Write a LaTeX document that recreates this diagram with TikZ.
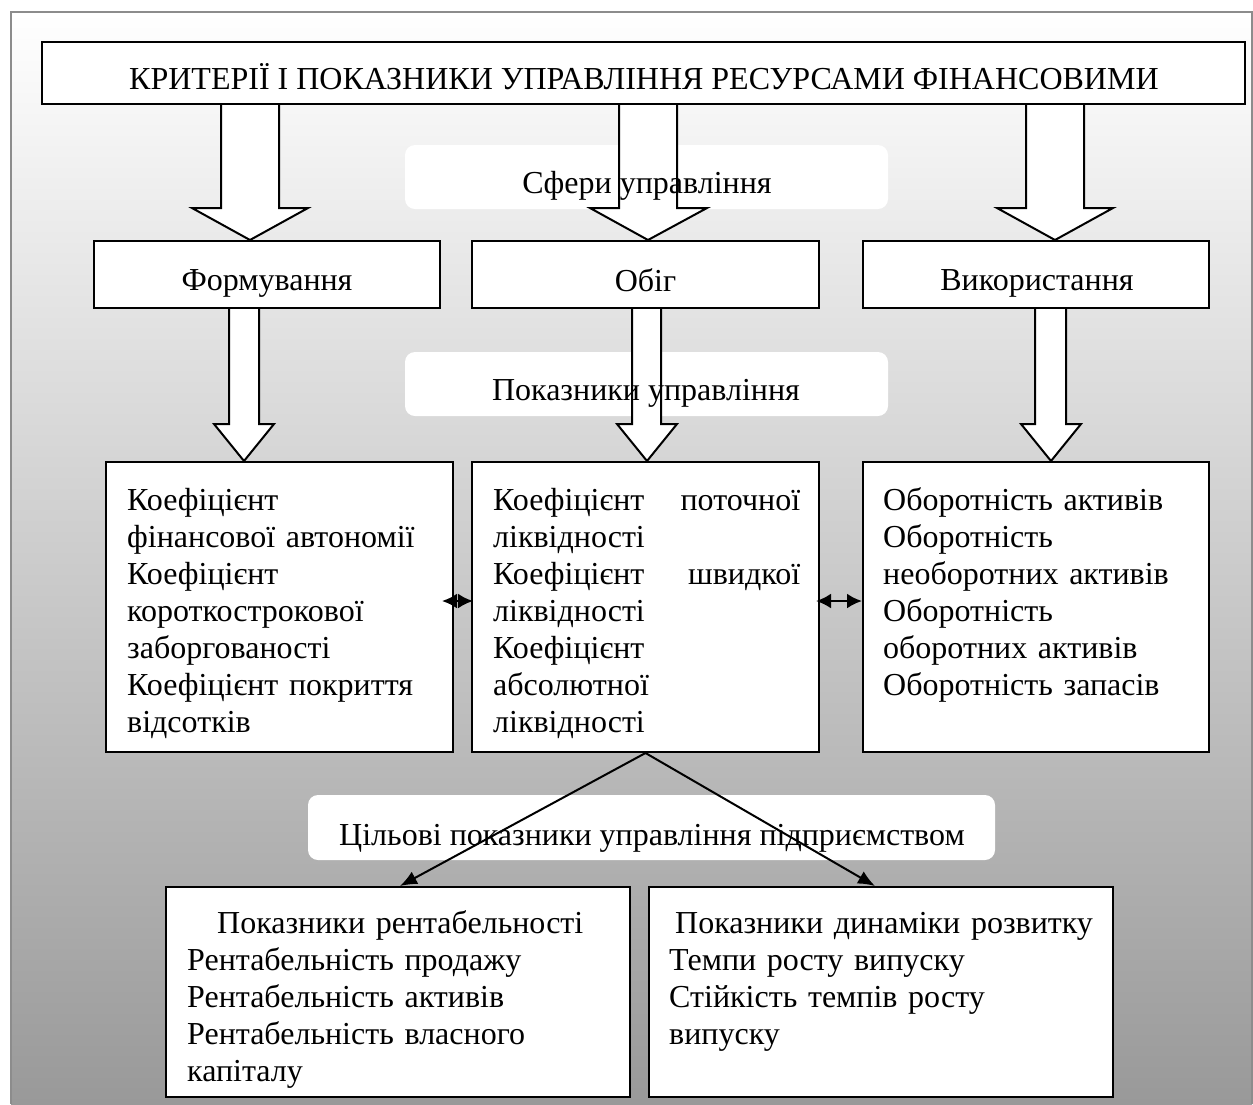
\documentclass[tikz,border=0pt]{standalone}
\usepackage{fontspec}
\setmainfont{Liberation Serif}
\usetikzlibrary{arrows.meta,calc}
\begin{document}
\begin{tikzpicture}[x=1pt,y=-1pt,
  box/.style={draw=black, line width=2pt, fill=white, inner sep=0pt},
  lbl/.style={fill=white, rounded corners=10pt, inner sep=0pt},
  barrow/.style={draw=black, line width=2pt, fill=white, line join=miter},
  txt/.style={font=\fontsize{32}{37}\selectfont, inner sep=0pt, align=left, anchor=base west},
  ctxt/.style={font=\fontsize{32}{37}\selectfont, inner sep=0pt, anchor=base},
  con/.style={line width=2pt, -{Latex[length=17pt,width=14pt]}},
  dbl/.style={line width=2.4pt, {Latex[length=15pt,width=15pt]}-{Latex[length=15pt,width=15pt]}}]
\useasboundingbox (0,0) rectangle (1253,1104);
% background frame
\path[shade, top color=white, bottom color=gray!80] (11,12) rectangle (1252,1104);
\draw[black!45, line width=2pt] (11,1104) -- (11,12) -- (1252,12) -- (1252,1104);

% label boxes
\node[lbl, minimum width=483pt, minimum height=64pt] (sl) at (646.5,177) {};
\node[lbl, minimum width=483pt, minimum height=64pt] (pl) at (646.5,384) {};
\node[lbl, minimum width=687pt, minimum height=65pt] (cl) at (651.5,827.5) {};

% boxes
\node[box, minimum width=1203pt, minimum height=62pt] (title) at (643.5,73) {};
\node[box, minimum width=346pt, minimum height=67pt] (f) at (267,274.5) {};
\node[box, minimum width=347pt, minimum height=67pt] (o) at (645.5,274.5) {};
\node[box, minimum width=346pt, minimum height=67pt] (v) at (1036,274.5) {};
\node[box, minimum width=347pt, minimum height=290pt] (l3) at (279.5,607) {};
\node[box, minimum width=347pt, minimum height=290pt] (m3) at (645.5,607) {};
\node[box, minimum width=346pt, minimum height=290pt] (r3) at (1036,607) {};
\node[box, minimum width=464pt, minimum height=210pt] (bl) at (398,992) {};
\node[box, minimum width=464pt, minimum height=210pt] (br) at (881,992) {};

% block arrows from title
\draw[barrow] (221,0 |- title.south) -- (221,208) -- (192,208) -- (250,0 |- f.north) -- (308,208) -- (279,208) -- (279,0 |- title.south);
\draw[barrow] (619,0 |- title.south) -- (619,208) -- (590,208) -- (648,0 |- o.north) -- (707,208) -- (677,208) -- (677,0 |- title.south);
\draw[barrow] (1026,0 |- title.south) -- (1026,208) -- (997,208) -- (1055,0 |- v.north) -- (1113,208) -- (1084,208) -- (1084,0 |- title.south);
% block arrows to third row
\draw[barrow] (229,0 |- f.south) -- (229,424) -- (214,424) -- (244,0 |- l3.north) -- (274,424) -- (259,424) -- (259,0 |- f.south);
\draw[barrow] (632,0 |- o.south) -- (632,424) -- (617,424) -- (647,0 |- m3.north) -- (677,424) -- (661,424) -- (661,0 |- o.south);
\draw[barrow] (1035,0 |- v.south) -- (1035,424) -- (1021,424) -- (1051,0 |- r3.north) -- (1081,424) -- (1066,424) -- (1066,0 |- v.south);

% label texts
\node[ctxt] (slt) at (647,193) {Сфери управління};
\node[ctxt] (plt) at (646,400) {Показники управління};
\node[ctxt] (clt) at (652,845) {Цільові показники управління підприємством};

% box texts
\node[ctxt] (titlet) at (644,89) {КРИТЕРІЇ І ПОКАЗНИКИ УПРАВЛІННЯ РЕСУРСАМИ ФІНАНСОВИМИ};
\node[ctxt] (ft) at (267,290) {Формування};
\node[ctxt] (ot) at (645.5,291) {Обіг};
\node[ctxt] (vt) at (1037,290) {Використання};

\node[txt, text width=320pt] (l3t) at (127,510) {Коефіцієнт\\фінансової автономії\\Коефіцієнт\\короткострокової\\заборгованості\\Коефіцієнт покриття\\відсотків};
\node[txt, text width=307pt] (m3t) at (493,510) {Коефіцієнт\hfill поточної\\ліквідності\\Коефіцієнт\hfill швидкої\\ліквідності\\Коефіцієнт\\абсолютної\\ліквідності};
\node[txt, text width=320pt] (r3t) at (883,510) {Оборотність активів\\Оборотність\\необоротних активів\\Оборотність\\оборотних активів\\Оборотність запасів};
\node[txt, text width=440pt] (blt) at (187,933) {\hspace*{30pt}Показники рентабельності\\Рентабельність продажу\\Рентабельність активів\\Рентабельність власного\\капіталу};
\node[txt, text width=440pt] (brt) at (669,933) {\hspace*{6pt}Показники динаміки розвитку\\Темпи росту випуску\\Стійкість темпів росту\\випуску};

% connectors
\draw[dbl] ($(l3.east)+(-12,-6)$) -- ($(m3.west)+(2,-6)$);
\draw[dbl] ($(m3.east)+(-4,-6)$) -- ($(r3.west)+(0,-6)$);
\draw[con] (m3.south) -- (400,0 |- bl.north);
\draw[con] (m3.south) -- (875,0 |- br.north);
\end{tikzpicture}
\end{document}
